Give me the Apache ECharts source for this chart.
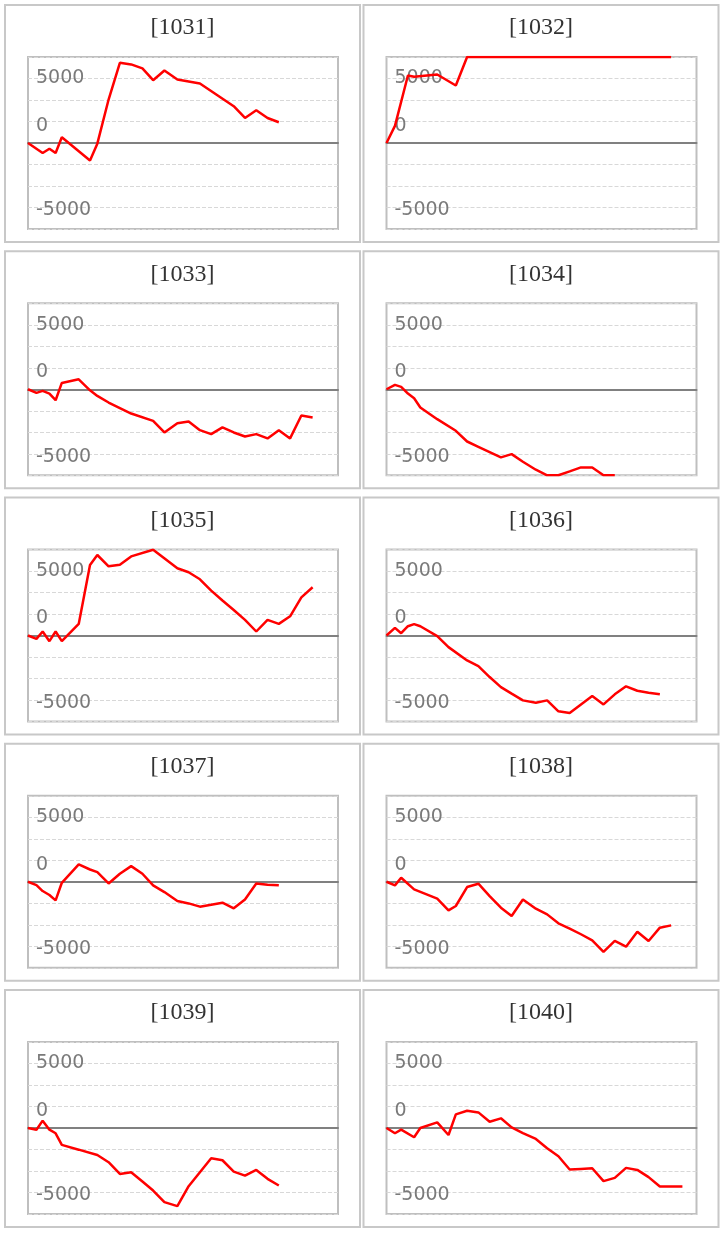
<!DOCTYPE html>
<html>
<head>
<meta charset="utf-8">
<script src="https://cdn.jsdelivr.net/npm/echarts@6/dist/echarts.min.js"></script>
<style>
  html, body { margin: 0; padding: 0; background: #fff; }
  #chart { width: 725px; height: 1234px; }
</style>
</head>
<body>
<div id="chart"></div>
<script>
// ---- data ----
const titles = ['[1031]', '[1032]', '[1033]', '[1034]', '[1035]', '[1036]', '[1037]', '[1038]', '[1039]', '[1040]'];
const xPos = [0, 1.5, 2.6, 3.8, 4.9, 6, 9, 11, 12.3, 14.3, 16.3, 18.3, 20.3, 22.2, 24.2, 26.5, 28.5, 30.5, 32.5, 34.5, 36.5, 38.5, 40.5, 42.5, 44.5, 46.5, 48.5, 50.5, 52.5];
const yTickLabels = [5000, 0, -5000];

const p1031 = [0, null, -780, -440, -780, 440, null, -1350, -50, 3370, 6220, 6090, 5780, 4870, 5620, 4920, null, 4610, null, null, 2850, 1940, 2540, 1940, 1610];
const p1032 = [0, 1330, null, 5230, 5130, null, 5310, null, 4460, 6667, null, null, null, null, null, null, null, null, null, null, null, null, null, null, null, null, null, 6667];
const p1033 = [0, -280, -130, -335, -850, 490, 770, -80, -515, -1030, null, -1880, null, -2450, -3350, -2630, -2500, -3170, -3480, -2960, -3350, -3660, -3480, -3810, -3170, -3810, -2040, -2190];
const p1034 = [0, 335, 180, -335, -700, -1420, -2320, null, -3220, -4050, -4460, null, -5280, -5030, -5620, -6240, -6667, -6667, -6370, -6060, -6060, -6667, -6667];
const p1035 = [0, -260, 310, -440, 310, -440, 900, 5460, 6240, 5360, 5490, 6130, null, 6650, null, 5210, 4900, 4360, 3480, 2710, 1980, 1210, 310, 1210, 900, 1490, 2960, 3740];
const p1036 = [0, 590, 180, 720, 880, 720, -50, -900, null, -1930, -2370, -3220, -4000, -4510, -5030, -5210, -5030, -5880, -6010, -5340, -4690, -5340, -4560, -3940, -4280, -4430, -4560];
const p1037 = [0, -260, -720, -1030, -1440, -80, 1340, 950, 750, -130, 620, 1210, 620, -280, -800, -1490, -1680, -1930, -1780, -1620, -2060, -1370, -130, -230, -280];
const p1038 = [0, -280, 310, null, -590, null, -1310, -2220, -1880, -410, -150, -1110, -2010, -2650, -1370, -2090, -2530, -3220, -3630, -4070, -4540, -5440, -4590, -5030, -3870, -4590, -3560, -3380];
const p1039 = [0, -130, 570, -130, -410, -1310, -1680, null, -2090, -2650, -3560, -3430, -4150, -4850, -5750, -6060, -4510, -3430, -2350, -2500, -3380, -3690, -3250, -3940, -4460];
const p1040 = [0, -410, -130, null, -720, 0, 440, -540, 1060, 1340, 1210, 490, 750, 50, -390, -850, -1570, -2190, -3220, -3170, -3120, -4120, -3870, -3090, -3250, -3810, -4540, -4540, -4540];

const seriesValues = [p1031, p1032, p1033, p1034, p1035, p1036, p1037, p1038, p1039, p1040];

// ---- layout / style ----
const PANEL_W = 355, PANEL_H = 237;
const COL_X = [5, 363.5];
const ROW_PITCH = 246.25, ROW_Y0 = 5;
const LABEL_FONT = 'DejaVu Sans';
const LABEL_COLOR = '#7a7a7a';
const LABEL_SIZE = 19;
const yStep = 5000 / 3;

const grids = [], xAxes = [], yAxes = [], series = [], titleOpts = [], graphics = [];

titles.forEach((t, i) => {
  const col = i % 2, row = Math.floor(i / 2);
  const x0 = COL_X[col], y0 = ROW_Y0 + row * ROW_PITCH;
  graphics.push({
    type: 'rect', z: -10,
    shape: { x: x0, y: y0, width: PANEL_W, height: PANEL_H },
    style: { fill: '#fff', stroke: '#c8c8c8', lineWidth: 2 }
  });
  titleOpts.push({
    text: t, left: x0 + PANEL_W / 2, top: y0 + 11, textAlign: 'center', padding: 0,
    textStyle: { fontFamily: 'Liberation Serif', fontSize: 24, fontWeight: 'normal', color: '#333' }
  });
  grids.push({
    left: x0 + 23, top: y0 + 52, width: 310, height: 172,
    show: true, borderColor: '#bfbfbf', borderWidth: 2, backgroundColor: 'transparent'
  });
  xAxes.push({
    gridIndex: i, type: 'value', min: 0, max: 55,
    axisLine: { show: true, onZero: true, lineStyle: { color: '#808080', width: 2 } },
    axisTick: { show: false }, axisLabel: { show: false }, splitLine: { show: false }
  });
  yAxes.push({
    gridIndex: i, type: 'value', min: -4 * yStep, max: 4 * yStep, interval: yStep,
    axisLine: { show: false }, axisTick: { show: false },
    splitLine: { show: true, lineStyle: { type: 'dashed', color: '#d8d8d8', width: 1 } },
    axisLabel: {
      inside: true, margin: 8, fontFamily: LABEL_FONT, fontSize: LABEL_SIZE, color: LABEL_COLOR,
      showMinLabel: true, showMaxLabel: true, hideOverlap: false,
      formatter: v => {
        const r = Math.round(v);
        if (!yTickLabels.includes(r)) return '';
        if (r === 0) return '{z|0}';
        if (r < 0) return '{n|' + r + '}';
        return String(r);
      },
      rich: {
        z: { fontFamily: LABEL_FONT, fontSize: LABEL_SIZE, color: LABEL_COLOR, padding: [0, 0, 34, 0] },
        n: { fontFamily: LABEL_FONT, fontSize: LABEL_SIZE, color: LABEL_COLOR, padding: [6, 0, 0, 0] }
      }
    }
  });
  series.push({
    type: 'line', xAxisIndex: i, yAxisIndex: i,
    data: xPos.map((x, k) => [x, seriesValues[i][k]]).filter(p => p[1] !== null && p[1] !== undefined),
    showSymbol: false, symbol: 'none',
    lineStyle: { color: '#ff0000', width: 2.5 },
    itemStyle: { color: '#ff0000' },
    animation: false
  });
});

const chart = echarts.init(document.getElementById('chart'), null, { renderer: 'canvas' });
chart.setOption({
  backgroundColor: '#fff',
  animation: false,
  title: titleOpts,
  graphic: graphics,
  grid: grids,
  xAxis: xAxes,
  yAxis: yAxes,
  series: series
});
</script>
</body>
</html>
